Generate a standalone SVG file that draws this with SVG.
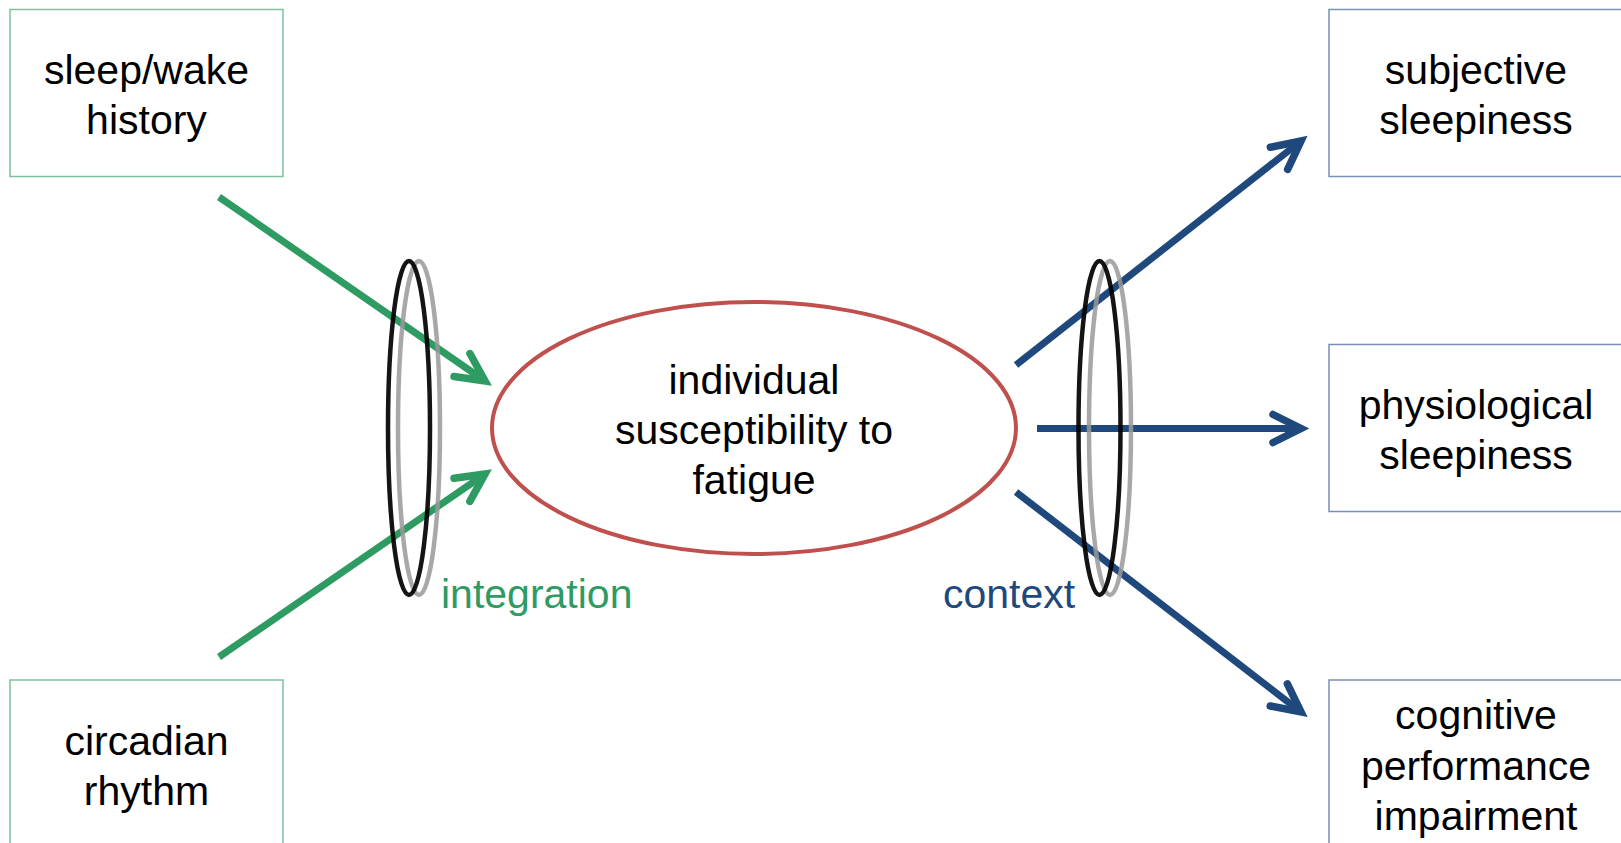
<svg xmlns="http://www.w3.org/2000/svg" width="1621" height="843" viewBox="0 0 1621 843">
<style>
  .t { font-family: "Liberation Sans", Arial, sans-serif; font-size: 41px; fill: #000; text-anchor: middle; }
  .gbox { fill: #fff; stroke: #7DC29D; stroke-width: 1.5; }
  .bbox { fill: #fff; stroke: #7A90B6; stroke-width: 1.5; }
  .garr { stroke: #2E9B63; stroke-width: 7; fill: none; marker-end: url(#mg); }
  .barr { stroke: #1F497D; stroke-width: 7; fill: none; marker-end: url(#mb); }
  .ringk { fill: none; stroke: #000; stroke-width: 4.5; opacity: 0.92; }
  .ringg { fill: none; stroke: #999; stroke-width: 4.5; opacity: 0.85; }
</style>
<defs>
  <marker id="mg" markerUnits="userSpaceOnUse" orient="auto" refX="0" refY="0" markerWidth="1" markerHeight="1" overflow="visible">
    <path d="M-28,-14 L0,0 L-28,14" fill="none" stroke="#2E9B63" stroke-width="7.5" stroke-linecap="round" stroke-linejoin="miter"/>
  </marker>
  <marker id="mb" markerUnits="userSpaceOnUse" orient="auto" refX="0" refY="0" markerWidth="1" markerHeight="1" overflow="visible">
    <path d="M-28,-14 L0,0 L-28,14" fill="none" stroke="#1F497D" stroke-width="7.5" stroke-linecap="round" stroke-linejoin="miter"/>
  </marker>
</defs>
<rect width="1621" height="843" fill="#fff"/>

<g id="sleep-wake-history">
  <rect class="gbox" x="10" y="9.5" width="273" height="167"/>
  <text class="t" x="146.5" y="84">sleep/wake</text>
  <text class="t" x="146.5" y="134">history</text>
</g>
<g id="circadian-rhythm">
  <rect class="gbox" x="10" y="680" width="273" height="170"/>
  <text class="t" x="146.5" y="755">circadian</text>
  <text class="t" x="146.5" y="805">rhythm</text>
</g>
<g id="subjective-sleepiness">
  <rect class="bbox" x="1329" y="9.5" width="300" height="167"/>
  <text class="t" x="1476" y="84">subjective</text>
  <text class="t" x="1476" y="134">sleepiness</text>
</g>
<g id="physiological-sleepiness">
  <rect class="bbox" x="1329" y="344.5" width="300" height="167"/>
  <text class="t" x="1476" y="419">physiological</text>
  <text class="t" x="1476" y="469">sleepiness</text>
</g>
<g id="cognitive-performance-impairment">
  <rect class="bbox" x="1329" y="680" width="300" height="170"/>
  <text class="t" x="1476" y="729">cognitive</text>
  <text class="t" x="1476" y="780">performance</text>
  <text class="t" x="1476" y="830">impairment</text>
</g>
<g id="individual-susceptibility">
  <ellipse cx="754" cy="428" rx="262" ry="126" fill="#fff" stroke="#C0504D" stroke-width="4"/>
  <text class="t" x="754" y="394">individual</text>
  <text class="t" x="754" y="444">susceptibility to</text>
  <text class="t" x="754" y="494">fatigue</text>
</g>

<g id="connectors">
  <line class="garr" x1="219" y1="197" x2="485" y2="381"/>
  <line class="garr" x1="219" y1="657" x2="485" y2="474"/>
  <line class="barr" x1="1016" y1="365" x2="1301" y2="141"/>
  <line class="barr" x1="1037" y1="428.5" x2="1301" y2="428.5"/>
  <line class="barr" x1="1016" y1="492" x2="1301" y2="712"/>
</g>

<g id="integration-ring">
  <ellipse class="ringg" cx="419" cy="428" rx="21" ry="167"/>
  <ellipse class="ringk" cx="409" cy="428" rx="21" ry="167"/>
  <text x="441" y="608" style="font-family: 'Liberation Sans', Arial, sans-serif; font-size: 41px; fill: #2E9B63;">integration</text>
</g>
<g id="context-ring">
  <ellipse class="ringg" cx="1110" cy="428" rx="21" ry="167"/>
  <ellipse class="ringk" cx="1099.5" cy="428" rx="21" ry="167"/>
  <text x="943" y="608" style="font-family: 'Liberation Sans', Arial, sans-serif; font-size: 41px; fill: #1F497D;">context</text>
</g>
</svg>
